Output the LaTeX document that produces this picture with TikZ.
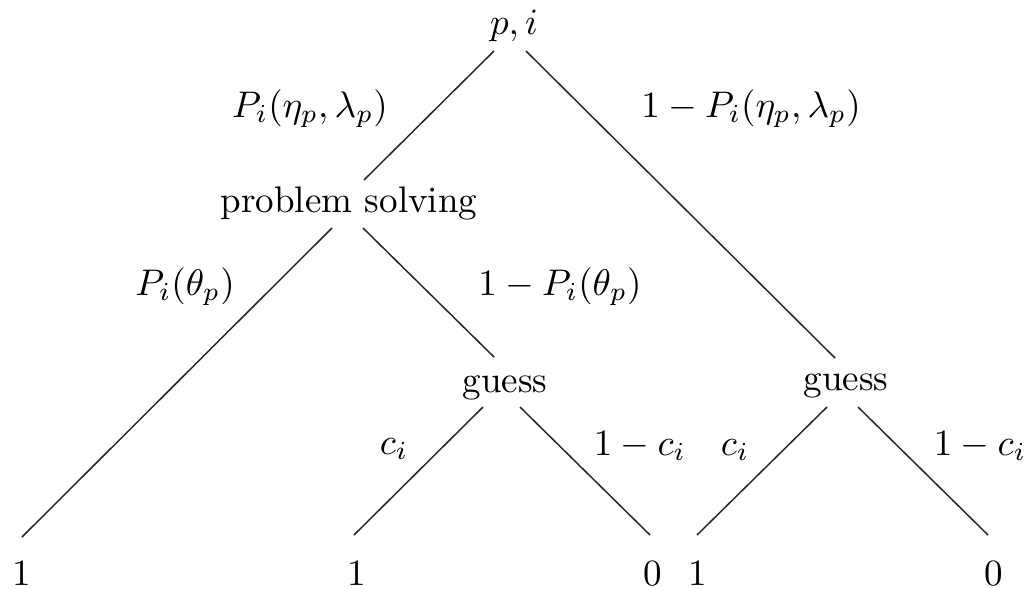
\documentclass[tikz,border=0pt]{standalone}
\usetikzlibrary{calc}
\begin{document}
\begin{tikzpicture}[x=0.27pt,y=-0.27pt,
  lbl/.style={anchor=base,inner sep=0pt,outer sep=0pt},
  edge/.style={line width=0.4pt,draw=black!85}]
\useasboundingbox (0,0) rectangle (1026,588);
% tree nodes
\node[lbl] (root) at (514,34) {$p,i$};
\node[lbl] (ps) at (349,212) {problem solving};
\node[lbl] (gl) at (505,392) {guess};
\node[lbl] (gr) at (846,390) {guess};
\node[lbl] (l1) at (22,585) {1};
\node[lbl] (l2) at (357,585) {1};
\node[lbl] (l3) at (653,585) {0};
\node[lbl] (l4) at (698,585) {1};
\node[lbl] (l5) at (994,585) {0};
% edge labels
\node[lbl] (e1) at (310,117) {$P_i(\eta_p,\lambda_p)$};
\node[lbl] (e2) at (751,117) {$1-P_i(\eta_p,\lambda_p)$};
\node[lbl] (e3) at (185,295) {$P_i(\theta_p)$};
\node[lbl] (e4) at (560,295) {$1-P_i(\theta_p)$};
\node[lbl] (e5) at (394,454) {$c_i$};
\node[lbl] (e6) at (640,455) {$1-c_i$};
\node[lbl] (e7) at (735,455) {$c_i$};
\node[lbl] (e8) at (980,455) {$1-c_i$};
% connectors
\draw[edge] ($(root.base)+(-20,17)$) -- ($(ps.base)+(15,-32)$);
\draw[edge] ($(root.base)+(12,17)$) -- ($(gr.base)+(-11,-32)$);
\draw[edge] ($(ps.base)+(-17,16)$) -- ($(l1.base)+(0,-48)$);
\draw[edge] ($(ps.base)+(14,16)$) -- ($(gl.base)+(-11,-35)$);
\draw[edge] ($(gl.base)+(-22,15)$) -- ($(l2.base)+(-3,-50)$);
\draw[edge] ($(gl.base)+(15,15)$) -- ($(l3.base)+(-3,-50)$);
\draw[edge] ($(gr.base)+(-19,17)$) -- ($(l4.base)+(-1,-50)$);
\draw[edge] ($(gr.base)+(12,17)$) -- ($(l5.base)+(-6,-50)$);
\end{tikzpicture}
\end{document}
